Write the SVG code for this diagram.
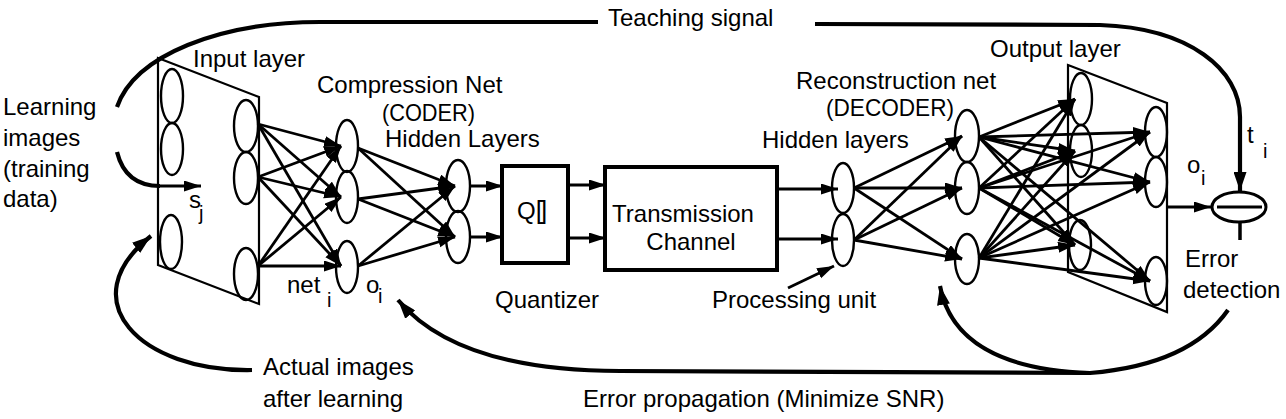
<svg xmlns="http://www.w3.org/2000/svg" width="1286" height="419" viewBox="0 0 1286 419">
<style>
text{font-family:"Liberation Sans",Arial,sans-serif;font-size:24px;fill:#000}
.sub{font-size:20px}
.plane{fill:none;stroke:#000;stroke-width:2.2}
.u{fill:none;stroke:#000;stroke-width:2.4}
.box{fill:#fff;stroke:#000;stroke-width:4}
.c{stroke:#000;stroke-width:2.8;fill:none;marker-end:url(#ah)}
.arc{stroke:#000;stroke-width:4.2;fill:none}
.arcA{stroke:#000;stroke-width:4.2;fill:none;marker-end:url(#big)}
</style>
<defs>
<marker id="ah" markerUnits="userSpaceOnUse" markerWidth="18" markerHeight="12" refX="17" refY="5.5" orient="auto"><path d="M0,0 L17,5.5 L0,11 z" fill="#000"/></marker>
<marker id="big" markerUnits="userSpaceOnUse" markerWidth="20" markerHeight="13" refX="19" refY="6.5" orient="auto"><path d="M0,0 L19,6.5 L0,13 z" fill="#000"/></marker>
</defs>
<rect width="1286" height="419" fill="#fff"/>

<g id="input-layer">
<polygon class="plane" points="158,58 259,97 259,304 158,265"/>
<ellipse class="u" cx="172" cy="96" rx="11" ry="27"/>
<ellipse class="u" cx="172" cy="149" rx="11" ry="26"/>
<ellipse class="u" cx="171" cy="242" rx="11" ry="27"/>
<ellipse class="u" cx="246" cy="126" rx="12" ry="26"/>
<ellipse class="u" cx="246" cy="178" rx="12" ry="26"/>
<ellipse class="u" cx="246" cy="274" rx="12" ry="26"/>
<text x="193" y="67">Input layer</text>
</g>

<g id="coder-hidden1">
<ellipse class="u" cx="347" cy="146" rx="11" ry="26"/>
<ellipse class="u" cx="347" cy="197" rx="11" ry="26"/>
<ellipse class="u" cx="347" cy="267" rx="11" ry="26"/>
<text x="317" y="93">Compression Net</text>
<text x="382" y="121" textLength="93" lengthAdjust="spacingAndGlyphs">(CODER)</text>
</g>

<g id="coder-hidden2">
<ellipse class="u" cx="458" cy="186" rx="12" ry="26"/>
<ellipse class="u" cx="458" cy="237" rx="12" ry="26"/>
<text x="385" y="147">Hidden Layers</text>
</g>

<g id="quantizer">
<rect class="box" x="502" y="166" width="66" height="97"/>
<text x="517" y="219">Q<tspan font-size="26" letter-spacing="-3">[]</tspan></text>
<text x="495" y="308">Quantizer</text>
</g>

<g id="channel">
<rect class="box" x="605" y="167" width="172" height="103"/>
<text x="683" y="222" text-anchor="middle">Transmission</text>
<text x="691" y="250" text-anchor="middle">Channel</text>
</g>

<g id="decoder-hidden1">
<ellipse class="u" cx="843" cy="188" rx="11" ry="25"/>
<ellipse class="u" cx="843" cy="240" rx="11" ry="26"/>
<text x="762" y="148">Hidden layers</text>
<text x="712" y="308">Processing unit</text>
</g>

<g id="decoder-hidden2">
<ellipse class="u" cx="967" cy="136" rx="12" ry="26"/>
<ellipse class="u" cx="967" cy="188" rx="12" ry="26"/>
<ellipse class="u" cx="967" cy="259" rx="12" ry="25"/>
<text x="796" y="89">Reconstruction net</text>
<text x="826" y="116" textLength="128" lengthAdjust="spacingAndGlyphs">(DECODER)</text>
</g>

<g id="output-layer">
<polygon class="plane" points="1068,65 1167,103 1167,312 1068,272"/>
<ellipse class="u" cx="1081" cy="99" rx="11" ry="26"/>
<ellipse class="u" cx="1081" cy="151" rx="11" ry="26"/>
<ellipse class="u" cx="1080" cy="245" rx="11" ry="25"/>
<ellipse class="u" cx="1156" cy="132" rx="11" ry="25"/>
<ellipse class="u" cx="1156" cy="182" rx="11" ry="25"/>
<ellipse class="u" cx="1156" cy="281" rx="11" ry="24"/>
<text x="990" y="57">Output layer</text>
</g>

<g id="error-detection">
<ellipse cx="1239" cy="207" rx="27" ry="15" fill="#fff" stroke="#000" stroke-width="3"/>
<line x1="1217" y1="207" x2="1262" y2="207" stroke="#000" stroke-width="3"/>
<line x1="1240" y1="222" x2="1240" y2="240" stroke="#000" stroke-width="3.5"/>
<text x="1185" y="267">Error</text>
<text x="1183" y="298">detection</text>
</g>

<g id="labels">
<text x="3" y="115">Learning</text>
<text x="3" y="146">images</text>
<text x="3" y="177">(training</text>
<text x="3" y="207">data)</text>
<text x="189" y="208">s</text>
<text x="199" y="220" class="sub">j</text>
<text x="287" y="293">net</text>
<text x="327" y="307" class="sub">i</text>
<text x="366" y="293" font-size="22">o</text>
<text x="378" y="303" class="sub" font-size="17">i</text>
<text x="608" y="26">Teaching signal</text>
<text x="1247" y="143">t</text>
<text x="1263" y="158" class="sub">i</text>
<text x="1187" y="173" font-size="22">o</text>
<text x="1201" y="185" class="sub" font-size="17">i</text>
<text x="263" y="375">Actual images</text>
<text x="263" y="407">after learning</text>
<text x="583" y="407">Error propagation (Minimize SNR)</text>
</g>

<g id="connectors">
<line class="c" x1="258" y1="124" x2="341" y2="146"/>
<line class="c" x1="258" y1="124" x2="341" y2="197"/>
<line class="c" x1="258" y1="124" x2="341" y2="266"/>
<line class="c" x1="258" y1="177" x2="341" y2="146"/>
<line class="c" x1="258" y1="177" x2="341" y2="197"/>
<line class="c" x1="258" y1="177" x2="341" y2="266"/>
<line class="c" x1="258" y1="266" x2="341" y2="146"/>
<line class="c" x1="258" y1="266" x2="341" y2="197"/>
<line class="c" x1="258" y1="266" x2="341" y2="266"/>
<line class="c" x1="358" y1="148" x2="455" y2="186"/>
<line class="c" x1="358" y1="148" x2="455" y2="237"/>
<line class="c" x1="358" y1="199" x2="455" y2="186"/>
<line class="c" x1="358" y1="199" x2="455" y2="237"/>
<line class="c" x1="358" y1="266" x2="455" y2="186"/>
<line class="c" x1="358" y1="266" x2="455" y2="237"/>
<line class="c" x1="470" y1="186" x2="503" y2="186"/>
<line class="c" x1="470" y1="237" x2="503" y2="237"/>
<line class="c" x1="568" y1="185" x2="606" y2="185"/>
<line class="c" x1="568" y1="238" x2="606" y2="238"/>
<line class="c" x1="777" y1="189" x2="838" y2="189"/>
<line class="c" x1="777" y1="239" x2="838" y2="239"/>
<line class="c" x1="854" y1="188" x2="962" y2="136"/>
<line class="c" x1="854" y1="188" x2="962" y2="188"/>
<line class="c" x1="854" y1="188" x2="962" y2="259"/>
<line class="c" x1="854" y1="240" x2="962" y2="136"/>
<line class="c" x1="854" y1="240" x2="962" y2="188"/>
<line class="c" x1="854" y1="240" x2="962" y2="259"/>
<line class="c" x1="979" y1="137" x2="1075" y2="99"/>
<line class="c" x1="979" y1="137" x2="1075" y2="151"/>
<line class="c" x1="979" y1="137" x2="1075" y2="245"/>
<line class="c" x1="979" y1="137" x2="1150" y2="132"/>
<line class="c" x1="979" y1="137" x2="1150" y2="182"/>
<line class="c" x1="979" y1="137" x2="1150" y2="281"/>
<line class="c" x1="979" y1="188" x2="1075" y2="99"/>
<line class="c" x1="979" y1="188" x2="1075" y2="151"/>
<line class="c" x1="979" y1="188" x2="1075" y2="245"/>
<line class="c" x1="979" y1="188" x2="1150" y2="132"/>
<line class="c" x1="979" y1="188" x2="1150" y2="182"/>
<line class="c" x1="979" y1="188" x2="1150" y2="281"/>
<line class="c" x1="979" y1="258" x2="1075" y2="99"/>
<line class="c" x1="979" y1="258" x2="1075" y2="151"/>
<line class="c" x1="979" y1="258" x2="1075" y2="245"/>
<line class="c" x1="979" y1="258" x2="1150" y2="132"/>
<line class="c" x1="979" y1="258" x2="1150" y2="182"/>
<line class="c" x1="979" y1="258" x2="1150" y2="281"/>
<line class="c" x1="1167" y1="207" x2="1211" y2="207"/>
<line class="c" x1="788" y1="288" x2="834" y2="266"/>
<path class="arc" d="M117,152 C122,172 135,186 160,186" stroke-width="3.5"/>
<line class="c" x1="158" y1="186" x2="201" y2="186"/>
<path class="arc" d="M117,107 C135,55 220,22 320,22 L598,22"/>
<path class="arcA" d="M815,24 L1100,25 C1190,28 1240,70 1240,117 L1240,191"/>
<path class="arcA" d="M252,370 C140,372 70,300 151,236"/>
<path class="arc" d="M1228,310 C1200,350 1150,368 1090,373 L620,371"/>
<path class="arcA" d="M620,371 C520,371 440,350 398,300"/>
<path class="arcA" d="M1090,373 C1000,370 950,340 940,286"/>
</g>
</svg>
